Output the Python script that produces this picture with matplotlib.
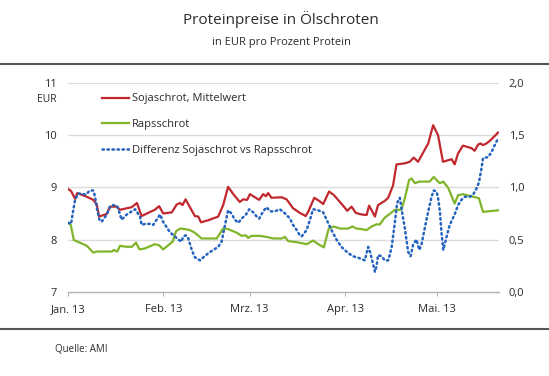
import matplotlib
matplotlib.use('Agg')
import matplotlib.pyplot as plt
from matplotlib.lines import Line2D

plt.rcParams['font.family'] = ['Open Sans', 'DejaVu Sans']

# Tage seit 1. Jan. 2013
tage_soja = [0, 1.0, 2.3, 3.0, 6.1, 8.2, 9.3, 10.1, 12.6, 13.6, 15.8, 16.9, 20.7, 22.4, 23.9,
             26.0, 28.2, 29.6, 30.9, 33.7, 35.3, 36.4, 37.2, 38.2, 41.2, 42.3, 43.2, 45.6,
             48.8, 50.4, 52.0, 53.7, 55.8, 56.9, 58.2, 59.1, 60.7, 62.1, 63.4, 64.3, 65.0,
             66.1, 69.4, 71.0, 73.1, 75.3, 77.2, 78.0, 80.0, 81.6, 82.9, 84.8, 86.4, 89.2,
             90.7, 92.1, 93.5, 95.4, 97.0, 97.8, 98.9, 99.7, 100.7, 102.9, 104.0, 105.6,
             106.7, 109.4, 111.0, 112.3, 113.7, 117.0, 118.6, 120.2, 121.8, 124.6, 125.6,
             126.7, 128.3, 131.1, 132.1, 133.2, 134.0, 134.8, 135.9, 137.0, 139.7]
soja = [8.97, 8.93, 8.78, 8.89, 8.82, 8.76, 8.68, 8.44, 8.49, 8.63, 8.63, 8.57, 8.62, 8.70, 8.45,
        8.51, 8.57, 8.64, 8.50, 8.52, 8.67, 8.70, 8.66, 8.77, 8.45, 8.44, 8.33, 8.37,
        8.44, 8.66, 9.01, 8.87, 8.72, 8.77, 8.76, 8.87, 8.81, 8.76, 8.87, 8.83, 8.89,
        8.80, 8.81, 8.77, 8.60, 8.51, 8.45, 8.53, 8.80, 8.74, 8.68, 8.92, 8.85, 8.66,
        8.55, 8.63, 8.51, 8.48, 8.47, 8.65, 8.53, 8.44, 8.66, 8.74, 8.80, 9.04,
        9.44, 9.46, 9.49, 9.57, 9.49, 9.84, 10.19, 10.00, 9.49, 9.54, 9.44,
        9.65, 9.80, 9.75, 9.70, 9.82, 9.84, 9.81, 9.84, 9.89, 10.05]

tage_raps = [0, 0.9, 1.9, 5.0, 6.1, 8.2, 9.5, 14.2, 14.9, 16.0, 16.9, 19.1, 20.7, 22.1, 23.2,
             25.0, 28.2, 29.6, 30.9, 34.0, 35.1, 36.4, 38.0, 39.6, 41.2, 43.4, 48.3, 50.4,
             52.0, 54.8, 56.4, 57.8, 58.5, 59.6, 62.3, 64.5, 66.7, 69.4, 70.5, 71.5, 74.3,
             77.5, 79.6, 81.3, 83.1, 84.7, 86.4, 88.3, 91.0, 92.4, 93.7, 95.4, 97.0, 98.6,
             100.2, 101.3, 102.9, 104.5, 106.2, 108.3, 109.4, 110.8, 111.6, 112.7, 114.1,
             117.5, 118.8, 120.2, 120.8, 121.9, 123.5, 125.6, 126.7, 128.3, 131.6, 133.5,
             134.8, 139.7]
raps = [8.33, 8.28, 7.99, 7.91, 7.88, 7.75, 7.77, 7.77, 7.80, 7.77, 7.88, 7.86, 7.86, 7.94, 7.81,
        7.83, 7.91, 7.89, 7.81, 7.96, 8.16, 8.21, 8.20, 8.18, 8.13, 8.02, 8.02, 8.21,
        8.20, 8.13, 8.07, 8.08, 8.03, 8.07, 8.07, 8.05, 8.02, 8.02, 8.05, 7.97, 7.95,
        7.91, 7.98, 7.91, 7.85, 8.21, 8.25, 8.21, 8.21, 8.25, 8.21, 8.20, 8.18, 8.25,
        8.29, 8.29, 8.42, 8.49, 8.57, 8.57, 8.79, 9.14, 9.17, 9.08, 9.11,
        9.11, 9.20, 9.11, 9.08, 9.11, 8.99, 8.69, 8.85, 8.87, 8.82, 8.79,
        8.53, 8.56]

tage_diff = [0, 1.0, 1.7, 2.3, 3.3, 4.4, 5.8, 7.1, 8.2, 8.8, 9.3, 10.2, 10.9, 12.6, 13.6, 14.7,
             16.0, 16.9, 17.4, 19.1, 20.7, 21.8, 23.4, 23.9, 25.1, 26.6, 27.7, 28.8, 29.9,
             30.9, 33.1, 34.7, 35.8, 36.9, 37.4, 38.3, 39.1, 40.2, 41.2, 42.9, 44.0, 45.6,
             47.2, 48.8, 49.9, 51.0, 52.0, 53.1, 54.2, 55.3, 56.4, 57.8, 58.9, 60.2, 61.3,
             62.1, 63.4, 64.5, 65.6, 67.2, 68.8, 70.5, 72.1, 73.1, 74.3, 75.3, 75.9, 77.5,
             78.6, 79.6, 81.3, 82.9, 84.0, 85.6, 87.2, 88.8, 91.0, 92.6, 94.8, 96.4, 97.5,
             98.1, 98.9, 99.7, 100.2, 100.7, 101.9, 102.9, 104.0, 105.1, 106.2, 106.9,
             107.8, 108.3, 109.4, 110.5, 111.3, 112.1, 113.2, 114.1, 114.8, 116.5, 118.1,
             118.8, 119.7, 120.2, 120.8, 121.3, 121.9, 123.0, 124.0, 125.6, 126.7, 127.8,
             128.9, 130.5, 131.6, 132.7, 133.5, 134.3, 134.8, 136.5, 137.6, 138.7, 139.7]
diff = [0.66, 0.65, 0.78, 0.88, 0.94, 0.94, 0.93, 0.97, 0.97, 0.91, 0.81, 0.69, 0.67, 0.74, 0.81, 0.83,
        0.82, 0.74, 0.69, 0.74, 0.77, 0.79, 0.72, 0.64, 0.65, 0.65, 0.64, 0.69, 0.74,
        0.67, 0.57, 0.53, 0.50, 0.48, 0.53, 0.54, 0.51, 0.40, 0.33, 0.30, 0.33, 0.37,
        0.40, 0.43, 0.48, 0.64, 0.78, 0.75, 0.69, 0.66, 0.70, 0.74, 0.79, 0.76, 0.72,
        0.70, 0.77, 0.81, 0.77, 0.77, 0.79, 0.75, 0.70, 0.64, 0.59, 0.54, 0.53, 0.59,
        0.69, 0.79, 0.78, 0.76, 0.69, 0.59, 0.50, 0.43, 0.37, 0.34, 0.32, 0.30, 0.43,
        0.38, 0.29, 0.19, 0.24, 0.35, 0.34, 0.30, 0.30, 0.42, 0.67, 0.85,
        0.90, 0.80, 0.61, 0.38, 0.34, 0.45, 0.50, 0.40, 0.45, 0.70, 0.91,
        0.97, 0.96, 0.90, 0.77, 0.57, 0.40, 0.53, 0.64, 0.74, 0.83, 0.88,
        0.91, 0.91, 0.93, 0.99, 1.05, 1.18, 1.28, 1.29, 1.34, 1.41, 1.47]

monat_tage = [0, 31, 59, 90, 120]
monat_labels = ['Jan. 13', 'Feb. 13', 'Mrz. 13', 'Apr. 13', 'Mai. 13']
links_ticks = [7, 8, 9, 10, 11]
rechts_ticks = [0.0, 0.5, 1.0, 1.5, 2.0]
rechts_labels = ['0,0', '0,5', '1,0', '1,5', '2,0']

rot = '#c0282d'
gruen = '#80b52a'
blau = '#2463be'
text_farbe = '#2b2b2b'

fig = plt.figure(figsize=(5.49, 3.76), dpi=100)
ax = fig.add_axes([68 / 549, 84.3 / 376, 431 / 549, 208.7 / 376])
ax2 = ax.twinx()

ax.plot(tage_soja, soja, color=rot, lw=1.6, solid_joinstyle='round', zorder=3)
ax.plot(tage_raps, raps, color=gruen, lw=1.6, solid_joinstyle='round', zorder=3)
ax2.plot(tage_diff, diff, color=blau, lw=1.8, linestyle=(0, (0.6, 1.4)),
         dash_capstyle='round', zorder=3)

ax.set_xlim(0, 140)
ax.set_ylim(7, 11)
ax2.set_ylim(0, 2)

ax.set_yticks(links_ticks)
ax.set_yticklabels([str(t) for t in links_ticks])
ax2.set_yticks(rechts_ticks)
ax2.set_yticklabels(rechts_labels)
ax.set_xticks(monat_tage)
ax.set_xticklabels(monat_labels)

for a in (ax, ax2):
    for s in a.spines.values():
        s.set_visible(False)
ax.spines['bottom'].set_visible(True)
ax.spines['bottom'].set_color('#b0b0b0')
ax.spines['bottom'].set_linewidth(1)

ax.tick_params(axis='y', length=0, pad=8, labelsize=8, labelcolor=text_farbe)
ax2.tick_params(axis='y', length=0, pad=7, labelsize=8, labelcolor=text_farbe)
ax.tick_params(axis='x', length=3, width=0.8, color='#b0b0b0', pad=6,
               labelsize=8, labelcolor=text_farbe)

for y in links_ticks[1:]:
    ax.axhline(y, color='#dcdcdc', lw=1, zorder=1)

fig.text(57 / 549, 1 - 99 / 376, 'EUR', ha='right', va='center', fontsize=7.5,
         color=text_farbe)

handles = [Line2D([], [], color=rot, lw=1.6),
           Line2D([], [], color=gruen, lw=1.6),
           Line2D([], [], color=blau, lw=1.8, linestyle=(0, (0.6, 1.4)), dash_capstyle='round')]
ax.legend(handles, ['Sojaschrot, Mittelwert', 'Rapsschrot', 'Differenz Sojaschrot vs Rapsschrot'],
          loc='upper left', bbox_to_anchor=(97.5 / 549, 1 - 89 / 376), bbox_transform=fig.transFigure,
          frameon=False, fontsize=8, handlelength=2.4, handletextpad=0.32, labelspacing=1.33,
          labelcolor=text_farbe, borderaxespad=0)

fig.text(281 / 549, 1 - 19 / 376, 'Proteinpreise in Ölschroten', ha='center', va='center',
         fontsize=11, color=text_farbe)
fig.text(281 / 549, 1 - 42 / 376, 'in EUR pro Prozent Protein', ha='center', va='center',
         fontsize=8, color=text_farbe)

fig.add_artist(Line2D([0, 1], [1 - 64 / 376] * 2, color='#555555', lw=1.5,
                      transform=fig.transFigure))
fig.add_artist(Line2D([0, 1], [1 - 329 / 376] * 2, color='#555555', lw=1.5,
                      transform=fig.transFigure))

fig.text(55 / 549, 1 - 350 / 376, 'Quelle: AMI', ha='left', va='center', fontsize=7,
         color=text_farbe)

fig.savefig('out.png', dpi=100)
